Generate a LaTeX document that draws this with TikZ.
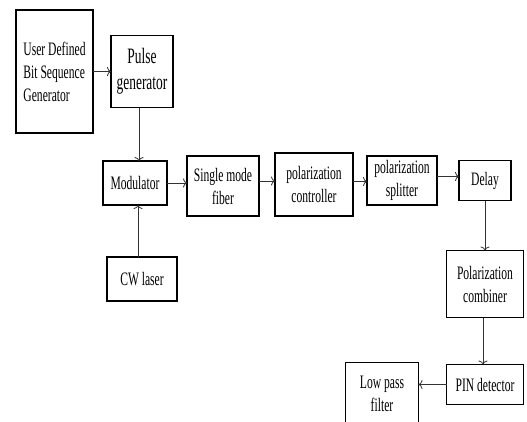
\documentclass[tikz,border=0pt]{standalone}
\usepackage{fontspec}
\setmainfont{Liberation Serif}[FakeStretch=0.61]
\usetikzlibrary{arrows.meta,positioning}

\begin{document}
\begin{tikzpicture} [
    box/.style={draw,%
      line width=1.6pt,%
      outer sep=0,%
      inner sep=1pt,%
      align=center,%
      font=\fontsize{19}{23}\selectfont},
    link/.style={-{To[length=4pt,width=9pt]},
      line width=0.8pt,
      draw=black!80}
    ]
    \useasboundingbox (0,0) rectangle (527pt,-421pt);
    \node[box, align=left, minimum width=77pt, minimum height=123pt] (udbsg) at (54.5pt,-71.5pt) {User Defined\\Bit Sequence\\Generator};
    \node[box, minimum width=62pt, minimum height=72pt, right=18pt of udbsg, font=\fontsize{22}{26}\selectfont] (pulse) {Pulse\\generator};
    \node[box, minimum width=64pt, minimum height=44pt] (mod) at (135pt,-183pt) {Modulator};
    \node[box, minimum width=70pt, minimum height=44pt, below=52pt of mod, xshift=7pt] (cw) {CW laser};
    \node[box, minimum width=72pt, minimum height=60pt, right=20pt of mod, yshift=-3pt] (smf) {Single mode\\fiber};
    \node[box, minimum width=78pt, minimum height=63pt, right=16pt of smf, yshift=1.5pt] (pc) {polarization\\controller};
    \node[box, minimum width=70pt, minimum height=49pt, right=14pt of pc, yshift=4pt] (ps) {polarization\\splitter};
    \node[box, minimum width=52pt, minimum height=40pt, right=22pt of ps] (delay) {Delay};
    \node[box, minimum width=77pt, minimum height=67pt, below=50pt of delay] (comb) {Polarization\\combiner};
    \node[box, minimum width=77pt, minimum height=40pt, below=47pt of comb] (pin) {PIN detector};
    \node[box, minimum width=73pt, minimum height=62pt, left=28pt of pin, yshift=-9pt] (lpf) {Low pass\\filter};
    % connectors
    \draw[link] (udbsg.east) -- (udbsg.east -| pulse.west);
    \draw[link] ([xshift=-3pt]pulse.south) -- ([xshift=-3pt]pulse.south |- mod.north);
    \draw[link] ([xshift=-4pt]cw.north) -- ([xshift=-4pt]cw.north |- mod.south);
    \draw[link] (mod.east) -- (mod.east -| smf.west);
    \draw[link] ([yshift=5pt]smf.east) -- ([yshift=5pt]smf.east -| pc.west);
    \draw[link] ([yshift=3pt]pc.east) -- ([yshift=3pt]pc.east -| ps.west);
    \draw[link] ([yshift=4pt]ps.east) -- ([yshift=4pt]ps.east -| delay.west);
    \draw[link] (delay.south) -- (comb.north);
    \draw[link] ([xshift=-2pt]comb.south) -- ([xshift=-2pt]comb.south |- pin.north);
    \draw[link] (pin.west) -- (pin.west -| lpf.east);
  \end{tikzpicture}
\end{document}
